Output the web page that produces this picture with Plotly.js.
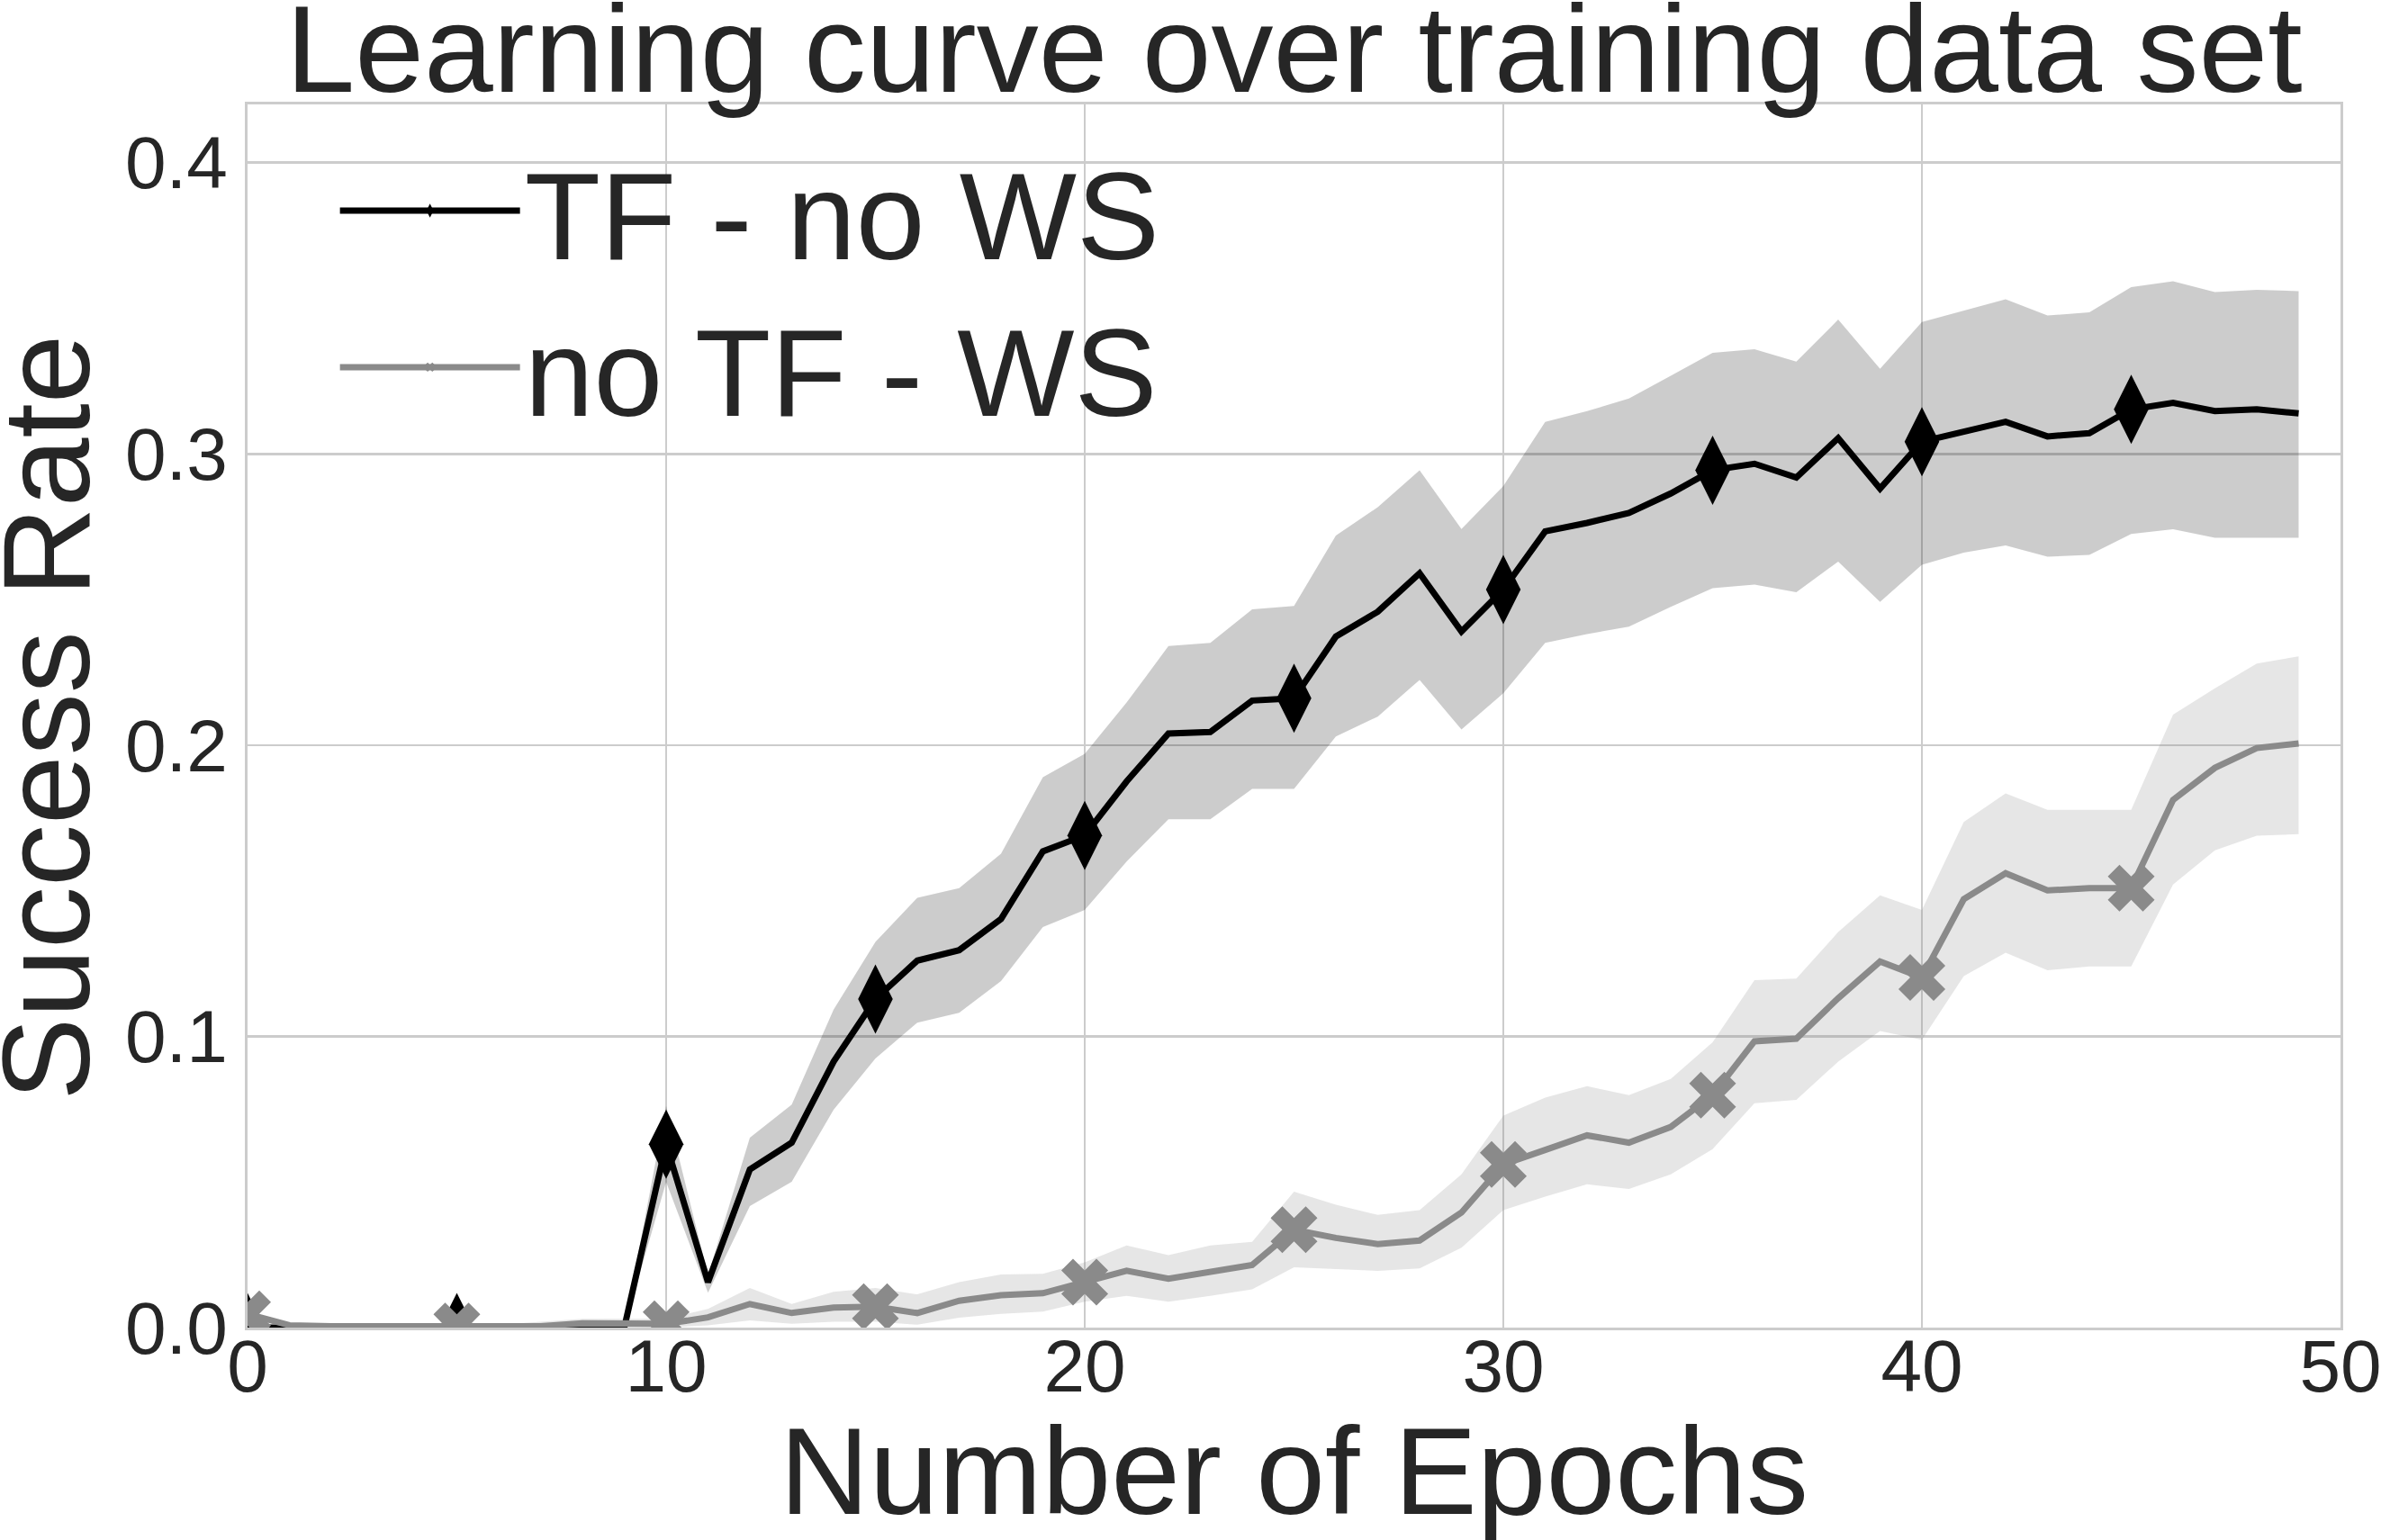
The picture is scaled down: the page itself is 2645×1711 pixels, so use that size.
<!DOCTYPE html>
<html>
<head>
<meta charset="utf-8">
<script src="https://cdn.plot.ly/plotly-3.0.1.min.js"></script>
<style>html,body{margin:0;padding:0;background:#fff;}#chart{width:2645px;height:1711px;}</style>
</head>
<body>
<div id="chart"></div>
<script>
// ---- data ----
const epochs = Array.from({length: 50}, (_, i) => i);

const tfMean = [0,0,0,0,0,0,0,0,0,0,
  0.063,0.0156,0.0543,0.0635,0.0913,0.1128,0.126,0.1296,0.1403,0.1635,
  0.169,0.1875,0.204,0.2045,0.2153,0.2161,0.2373,0.2458,0.259,0.239,
  0.2534,0.2734,0.2763,0.2797,0.2864,0.2944,0.2966,0.2919,0.3054,0.2881,
  0.3042,0.3076,0.311,0.306,0.3071,0.3153,0.3175,0.3147,0.3153,0.3139];
const tfUpper = [0,0,0,0,0,0,0,0,0,0,
  0.0761,0.018,0.0652,0.0766,0.1092,0.1324,0.1476,0.1509,0.1627,0.189,
  0.197,0.2146,0.234,0.2351,0.2466,0.2478,0.272,0.2817,0.2944,0.2742,
  0.289,0.311,0.3147,0.319,0.3268,0.3347,0.3359,0.3317,0.3461,0.3292,
  0.3453,0.3492,0.3531,0.3475,0.3486,0.3573,0.3593,0.3556,0.3563,0.3559];
const tfLower = [0,0,0,0,0,0,0,0,0,0,
  0.05,0.012,0.0417,0.0501,0.0748,0.0924,0.1047,0.1081,0.119,0.1375,
  0.1434,0.160,0.1745,0.1745,0.185,0.185,0.203,0.2098,0.2224,0.2054,
  0.2178,0.2351,0.2381,0.2407,0.2475,0.2539,0.2551,0.2525,0.263,0.2492,
  0.2619,0.2661,0.2686,0.2647,0.2653,0.2725,0.2741,0.2712,0.2712,0.2712];

const wsMean = [0.0047,0.0008,0.0005,0.0005,0.0008,0.0005,0.0008,0.0005,0.0015,0.0013,
  0.0013,0.0035,0.0081,0.005,0.0069,0.0072,0.005,0.0092,0.0111,0.0118,
  0.0156,0.0195,0.0168,0.019,0.0215,0.0336,0.0308,0.0287,0.0299,0.0395,
  0.056,0.061,0.066,0.0635,0.0689,0.0798,0.0983,0.0992,0.1131,0.1257,
  0.1202,0.1471,0.156,0.1501,0.1509,0.1509,0.1812,0.1922,0.199,0.2006];
const wsUpper = [0.005,0.001,0.001,0.001,0.001,0.001,0.001,0.002,0.003,0.003,
  0.003,0.0064,0.0136,0.0081,0.0123,0.0136,0.0114,0.0156,0.0182,0.0185,
  0.0224,0.0282,0.0249,0.0282,0.0294,0.0467,0.0422,0.0387,0.0403,0.0526,
  0.0728,0.079,0.0829,0.0798,0.0854,0.098,0.1193,0.1198,0.1358,0.1484,
  0.1434,0.1736,0.1834,0.1778,0.1778,0.1778,0.2105,0.2195,0.228,0.2305];
const wsLower = [0.004,0.0005,0,0,0,0,0,0,0,0,
  0,0.0008,0.0025,0.0013,0.002,0.002,0.001,0.0034,0.0047,0.0055,
  0.0089,0.0109,0.0089,0.0109,0.0131,0.0207,0.0202,0.0195,0.0203,0.0274,
  0.0403,0.045,0.0492,0.0476,0.0526,0.0613,0.077,0.0782,0.0913,0.1018,
  0.0988,0.1207,0.1287,0.1227,0.124,0.124,0.1521,0.1639,0.1689,0.1694];

const seriesNames = ['TF - no WS', 'no TF - WS'];
const xTicks = [0, 10, 20, 30, 40, 50];
const yTicks = [0.0, 0.1, 0.2, 0.3, 0.4];
const titleText = 'Learning curve over training data set';
const xTitle = 'Number of Epochs';
const yTitle = 'Success Rate';

// ---- styling ----
const FONT = 'Liberation Sans, Arial, Helvetica, sans-serif';
const TXT = '#262626';
const GRID = '#cccccc';
const markEvery = 5;
const sizesFor = (s) => epochs.map(e => (e % markEvery === 0 ? s : 0));

const traces = [
  {x: epochs, y: tfLower, mode: 'lines', line: {width: 0, color: 'rgba(0,0,0,0)'},
   showlegend: false, hoverinfo: 'skip'},
  {x: epochs, y: tfUpper, mode: 'lines', line: {width: 0, color: 'rgba(0,0,0,0)'},
   fill: 'tonexty', fillcolor: 'rgba(0,0,0,0.2)', showlegend: false, hoverinfo: 'skip'},
  {x: epochs, y: tfMean, name: seriesNames[0], mode: 'lines+markers', legend: 'legend',
   line: {color: '#000000', width: 7},
   marker: {symbol: 'diamond-tall', color: '#000000', opacity: 1, line: {width: 0},
            size: sizesFor(55)}},
  {x: epochs, y: wsLower, mode: 'lines', line: {width: 0, color: 'rgba(0,0,0,0)'},
   showlegend: false, hoverinfo: 'skip'},
  {x: epochs, y: wsUpper, mode: 'lines', line: {width: 0, color: 'rgba(0,0,0,0)'},
   fill: 'tonexty', fillcolor: 'rgba(128,128,128,0.2)', showlegend: false, hoverinfo: 'skip'},
  {x: epochs, y: wsMean, name: seriesNames[1], mode: 'lines+markers', legend: 'legend2',
   line: {color: '#8a8a8a', width: 7},
   marker: {symbol: 'x', color: '#8a8a8a', opacity: 1, line: {width: 0},
            size: sizesFor(46)}}
];

const axisCommon = {
  showgrid: true, gridcolor: GRID, gridwidth: 2.7,
  showline: true, linecolor: GRID, linewidth: 2.7, mirror: true,
  zeroline: false, ticks: '',
  tickfont: {family: FONT, size: 82, color: TXT},
  ticklabeloverflow: 'allow'
};

const legendCommon = {
  xanchor: 'left', yanchor: 'middle',
  bgcolor: 'rgba(0,0,0,0)', borderwidth: 0,
  font: {family: FONT, size: 138, color: TXT},
  itemwidth: 200, itemsizing: 'trace'
};

const layout = {
  width: 2645, height: 1711,
  margin: {l: 275, r: 45, t: 116, b: 236, pad: 0},
  paper_bgcolor: '#ffffff', plot_bgcolor: '#ffffff',
  font: {family: FONT, color: TXT},
  title: {text: titleText, font: {family: FONT, size: 138, color: TXT},
          xref: 'paper', x: 0.5, xanchor: 'center',
          yref: 'container', y: 0.997, yanchor: 'top'},
  xaxis: Object.assign({}, axisCommon, {
    range: [0, 50], tickvals: xTicks, ticktext: xTicks.map(String),
    ticklabelstandoff: -30,
    title: {text: xTitle, font: {family: FONT, size: 138, color: TXT}, standoff: 59}
  }),
  yaxis: Object.assign({}, axisCommon, {
    range: [0, 0.42], tickvals: yTicks, ticktext: yTicks.map(v => v.toFixed(1)),
    ticklabelstandoff: 3
  }),
  annotations: [{
    text: yTitle, textangle: -90, showarrow: false,
    xref: 'paper', yref: 'paper', x: -0.0624, y: 0.499,
    xanchor: 'right', yanchor: 'middle',
    font: {family: FONT, size: 138, color: TXT}
  }],
  legend: Object.assign({}, legendCommon, {x: 0.042, y: 0.913}),
  legend2: Object.assign({}, legendCommon, {x: 0.042, y: 0.785}),
  showlegend: true
};

Plotly.newPlot('chart', traces, layout, {displayModeBar: false, staticPlot: true});
</script>
</body>
</html>
